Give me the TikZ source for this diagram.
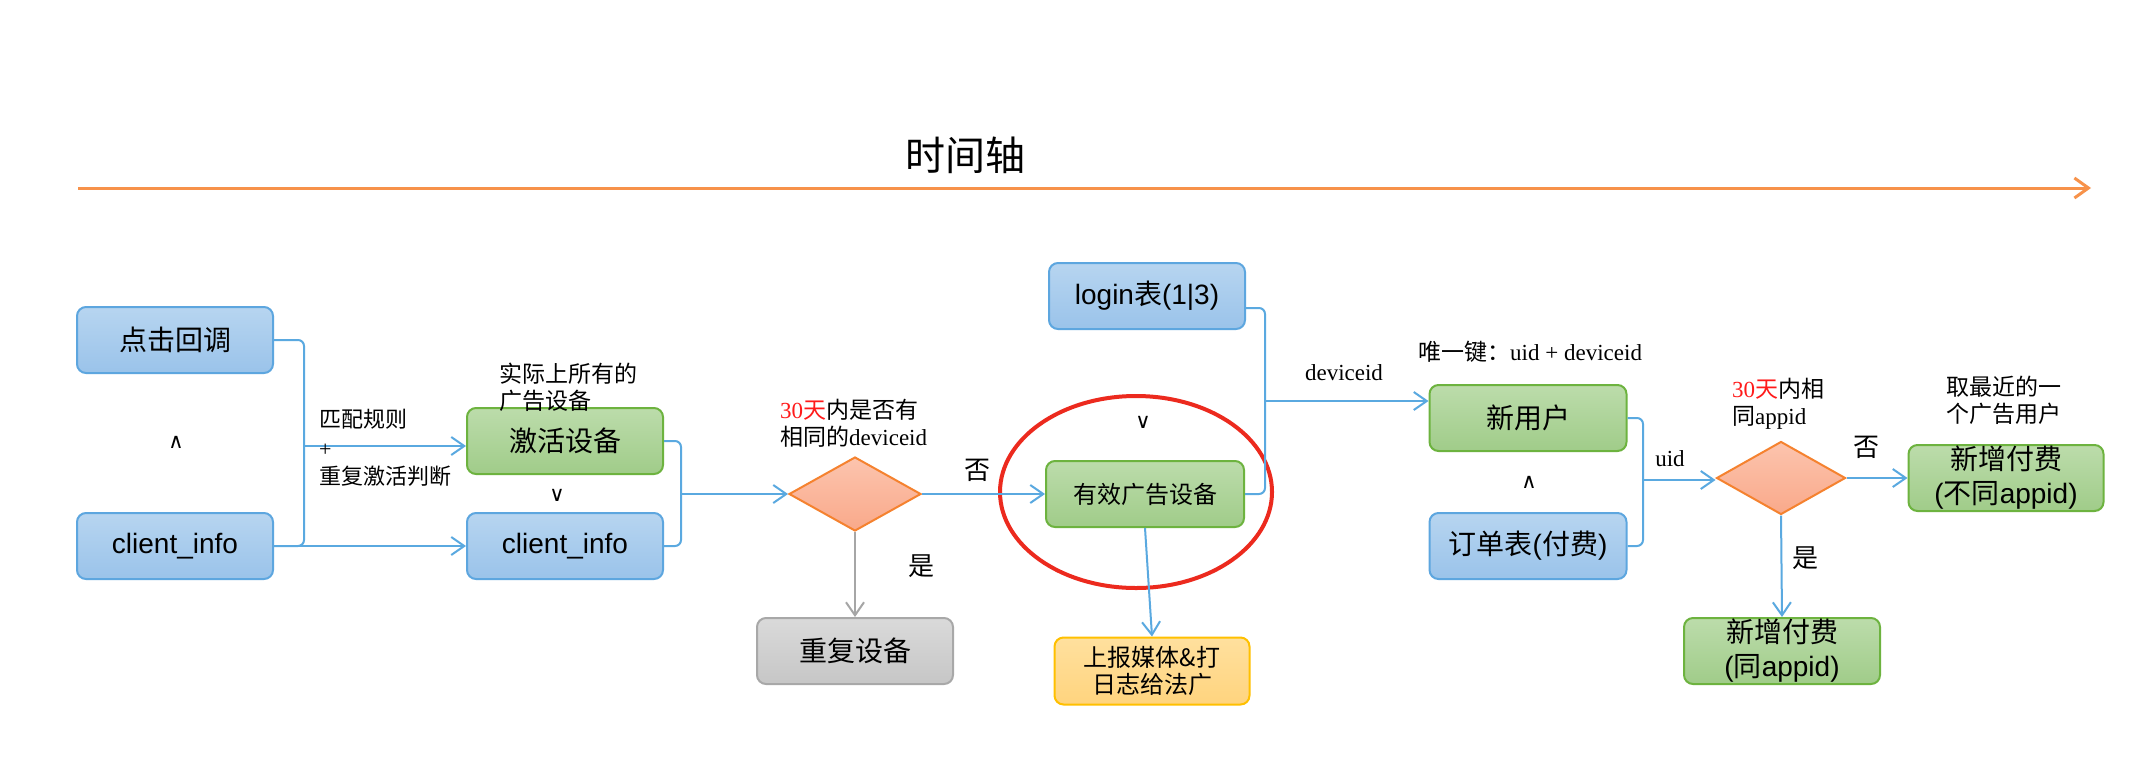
\documentclass[tikz,border=0pt]{standalone}
\usepackage{fontspec}
\setmainfont{Liberation Serif}
\newfontfamily\cjk{Noto Sans CJK SC}
\newfontfamily\bsans{Liberation Sans}
\newfontfamily\symf{DejaVu Sans}
\usetikzlibrary{shapes.geometric,arrows.meta}
\newcommand\zh[1]{{\cjk #1}}
\definecolor{bluebd}{HTML}{5DA6DF}
\definecolor{bluet}{HTML}{B7D5F0}
\definecolor{blueb}{HTML}{9AC3EA}
\definecolor{greenbd}{HTML}{6DB33F}
\definecolor{greent}{HTML}{BCDCAB}
\definecolor{greenb}{HTML}{A0CC89}
\definecolor{graybd}{HTML}{A8A8A8}
\definecolor{grayt}{HTML}{DADADA}
\definecolor{grayb}{HTML}{C6C6C6}
\definecolor{yelbd}{HTML}{FFC000}
\definecolor{yelt}{HTML}{FFE09E}
\definecolor{yelb}{HTML}{FFD47E}
\definecolor{diabd}{HTML}{F5822F}
\definecolor{diat}{HTML}{FCC4AE}
\definecolor{diab}{HTML}{F9A98A}
\definecolor{linec}{HTML}{5AA9E0}
\definecolor{grayline}{HTML}{A6A6A6}
\definecolor{tlc}{HTML}{F7924A}
\definecolor{hlred}{HTML}{EC2A1E}
\definecolor{txtred}{HTML}{FF1A1A}
\tikzset{
  box/.style={rounded corners=9pt, minimum width=196pt, minimum height=66pt,
    inner sep=0pt, line width=2pt, align=center,
    font=\fontsize{28}{34}\selectfont\bsans},
  bluebox/.style={box, draw=bluebd, top color=bluet, bottom color=blueb},
  greenbox/.style={box, draw=greenbd, top color=greent, bottom color=greenb},
  graybox/.style={box, draw=graybd, top color=grayt, bottom color=grayb},
  yellowbox/.style={box, draw=yelbd, top color=yelt, bottom color=yelb},
  dia/.style={diamond, draw=diabd, line width=2pt, top color=diat, bottom color=diab, inner sep=0pt},
  conn/.style={draw=linec, line width=2pt},
  grayconn/.style={draw=grayline, line width=2pt},
  arr/.style={-{Straight Barb[length=13pt,width=18pt]}},
  lbl/.style={inner sep=0pt, align=left, font=\fontsize{23}{27}\selectfont},
  bigl/.style={inner sep=0pt, font=\fontsize{26}{30}\selectfont},
  sym/.style={inner sep=0pt, font=\fontsize{21}{24}\selectfont\symf},
}
\begin{document}
\begin{tikzpicture}[x=1pt,y=-1pt]
\useasboundingbox (0,0) rectangle (2140,782);
\fill[white] (0,0) rectangle (2140,782);

% timeline
\coordinate (t1) at (78,188);
\coordinate (t2) at (2091,188);
\draw[draw=tlc, line width=3pt, -{Straight Barb[length=14pt,width=20pt]}] (t1) -- (t2);
\node[inner sep=0pt, font=\fontsize{40}{46}\selectfont] (title) at (965,155) {\zh{时间轴}};

% boxes
\node[bluebox] (click) at (175,340) {\zh{点击回调}};
\node[bluebox] (ci1) at (175,546) {client\_info};
\node[greenbox] (act) at (565,441) {\zh{激活设备}};
\node[bluebox] (ci2) at (565,546) {client\_info};
\node[bluebox] (login) at (1147,296) {login\zh{表}(1|3)};
\node[greenbox, minimum width=198pt, font=\fontsize{24}{28}\selectfont\bsans] (valid) at (1145,494) {\zh{有效广告设备}};
\node[graybox] (dup) at (855,651) {\zh{重复设备}};
\node[yellowbox, minimum width=195pt, minimum height=67pt, font=\fontsize{24}{27}\selectfont\bsans] (report) at (1152,671) {\zh{上报媒体\&打}\\\zh{日志给法广}};
\node[greenbox, minimum width=197pt] (newu) at (1528,418) {\zh{新用户}};
\node[bluebox, minimum width=197pt] (order) at (1528,546) {\zh{订单表}(\zh{付费})};
\node[greenbox, minimum width=195pt, font=\fontsize{28}{34}\selectfont\bsans] (pay1) at (2006,478) {\zh{新增付费}\\(\zh{不同}appid)};
\node[greenbox, minimum width=196pt, font=\fontsize{28}{34}\selectfont\bsans] (pay2) at (1782,651) {\zh{新增付费}\\(\zh{同}appid)};
\node[dia, minimum width=132pt, minimum height=74pt] (d1) at (855,494) {};
\node[dia, minimum width=129pt, minimum height=73pt] (d2) at (1781,478) {};
\node[ellipse, draw=hlred, line width=4pt, minimum width=272pt, minimum height=192pt] (hl) at (1136,492) {};

% bracket spines
\coordinate (b1) at (304,446);
\coordinate (b2) at (681,494);
\coordinate (b3) at (1265,401);
\coordinate (b4) at (1643,480);

% connectors
\draw[conn, rounded corners=6pt] (click.east) -- (click.east -| b1) -- (ci1.east -| b1) -- (ci1.east);
\draw[conn, arr] (b1) -- (act.west |- b1);
\draw[conn, arr] (ci1.east) -- (ci2.west);
\draw[conn, rounded corners=6pt] (act.east) -- (act.east -| b2) -- (ci2.east -| b2) -- (ci2.east);
\draw[conn, arr] (b2) -- (d1.west);
\draw[conn, arr] (d1.east) -- (valid.west);
\draw[grayconn, arr] (d1.south) -- (dup.north);
\draw[conn, arr] (valid.south) -- (report.north);
\draw[conn, rounded corners=6pt] ([yshift=-12pt]login.east) -- ([yshift=-12pt]login.east -| b3) -- (valid.east -| b3) -- (valid.east);
\draw[conn, arr] (b3) -- (newu.west |- b3);
\draw[conn, rounded corners=6pt] (newu.east) -- (newu.east -| b4) -- (order.east -| b4) -- (order.east);
\draw[conn, arr] (b4) -- (d2.west |- b4);
\draw[conn, arr] (d2.east) -- (pay1.west);
\draw[conn, arr] (d2.south) -- (pay2.north);

% labels
\node[lbl, anchor=west] (l1) at (499,387) {\zh{实际上所有的}\\\zh{广告设备}};
\node[lbl, anchor=west, font=\fontsize{22}{28.5}\selectfont] (l2) at (319,448) {\zh{匹配规则}\\+\\\zh{重复激活判断}};
\node[sym] (s1) at (176,442) {∧};
\node[sym] (s2) at (557,495) {∨};
\node[sym] (s3) at (1143,422) {∨};
\node[sym] (s4) at (1529,482) {∧};
\node[lbl, anchor=west] (l3) at (780,423) {\textcolor{txtred}{30\zh{天}}\zh{内是否有}\\\zh{相同的}deviceid};
\node[bigl] (no1) at (977,470) {\zh{否}};
\node[bigl] (yes1) at (921,566) {\zh{是}};
\node[lbl] (dev) at (1344,373) {deviceid};
\node[lbl, anchor=west] (key) at (1418,352) {\zh{唯一键：}uid + deviceid};
\node[lbl] (uid) at (1670,459) {uid};
\node[lbl, anchor=west] (l4) at (1732,404) {\textcolor{txtred}{30\zh{天}}\zh{内相}\\\zh{同}appid};
\node[bigl] (no2) at (1866,447) {\zh{否}};
\node[bigl] (yes2) at (1805,558) {\zh{是}};
\node[lbl, anchor=west] (l5) at (1946,400) {\zh{取最近的一}\\\zh{个广告用户}};
\end{tikzpicture}
\end{document}
